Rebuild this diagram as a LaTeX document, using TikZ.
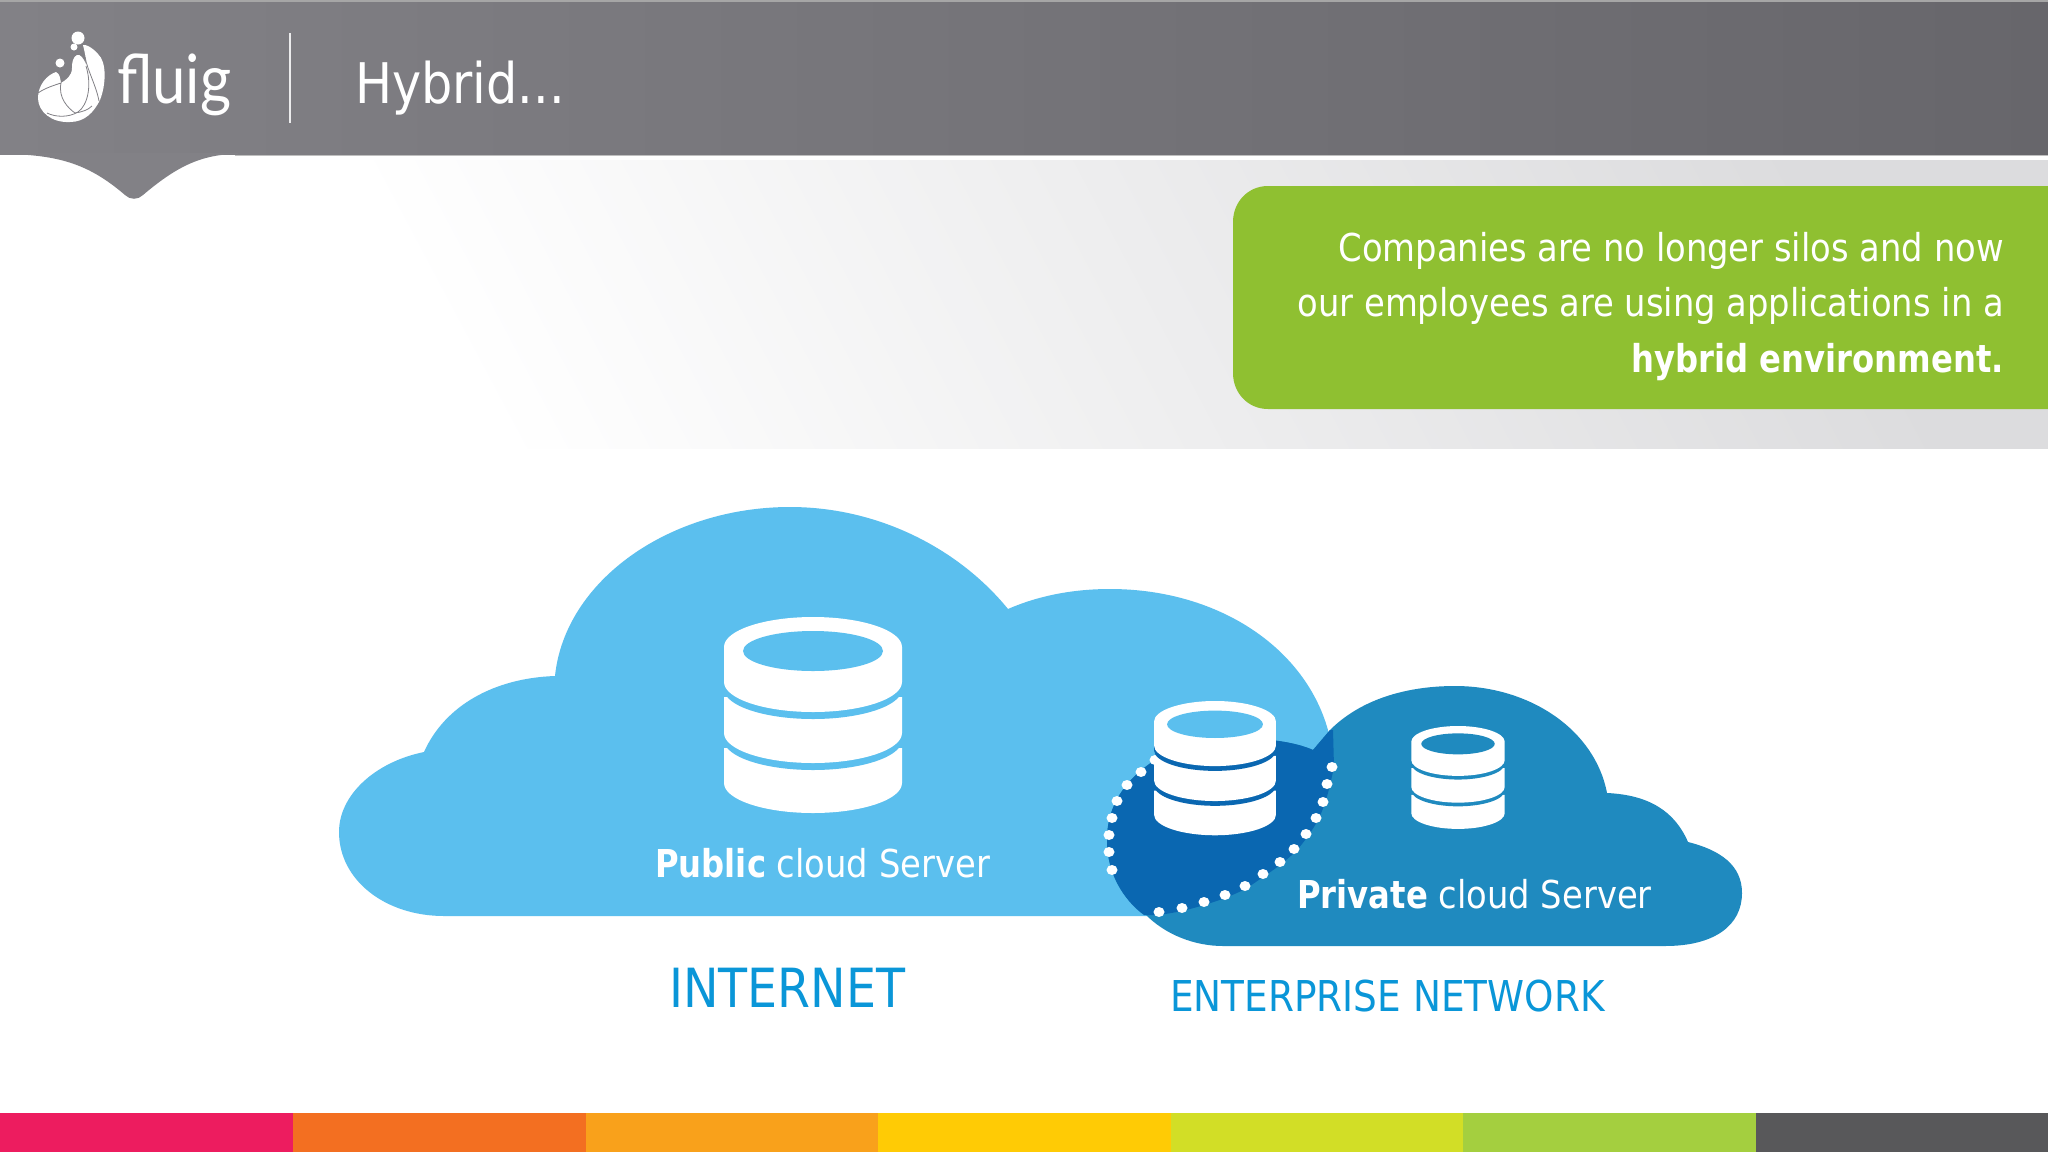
\documentclass[tikz,border=0pt]{standalone}
\usepackage{fontspec}
\setmainfont{DejaVu Sans}[FakeStretch=0.88,BoldFeatures={FakeStretch=0.84}]
\newfontfamily\logofont{Lato}[FakeStretch=0.88]
\usetikzlibrary{calc}
\definecolor{hdrL}{HTML}{828186}
\definecolor{hdrR}{HTML}{67666B}
\definecolor{greenbox}{HTML}{8FC031}
\definecolor{cloudpub}{HTML}{5BBFEE}
\definecolor{cloudpriv}{HTML}{1F8ABF}
\definecolor{cloudmix}{HTML}{0A67B1}
\definecolor{labelblue}{HTML}{0A96D8}
\definecolor{bandgrey}{HTML}{DCDCDE}
\tikzset{
  x=1pt,y=-1pt,
  whitetext/.style={text=white,inner sep=0pt,anchor=base west},
  bluetext/.style={text=labelblue,inner sep=0pt,anchor=base west},
  boxtext/.style={text=white,inner sep=0pt,anchor=base east},
  stripe/.style={fill=#1,draw=none},
  dotmark/.style={fill=white,draw=none},
  logoline/.style={draw=hdrL,line width=0.8pt},
}
% one disc of a database icon: sides from #1 to #2, bottom of the curve at #3
\newcommand{\discshape}[3]{(-89,#1) -- (-89,#2) .. controls (-89,{#2+0.5523*(#3-#2)}) and (-49,#3) .. (0,#3) .. controls (49,#3) and (89,{#2+0.5523*(#3-#2)}) .. (89,#2) -- (89,#1)}
\newcommand{\dbicon}[5]{%
  \begin{scope}[shift={(#1,#2)},scale=#3]
    \fill[white] \discshape{131}{166}{196} -- cycle;
    \begin{scope}[yshift=-7pt]\fill[#5] \discshape{90}{116}{146} -- cycle;\end{scope}
    \fill[white] \discshape{80}{116}{146} -- cycle;
    \begin{scope}[yshift=-7pt]\fill[#5] \discshape{40}{65}{95} -- cycle;\end{scope}
    \fill[white] \discshape{30}{65}{95} .. controls (89,13.4) and (49,0) .. (0,0) .. controls (-49,0) and (-89,13.4) .. (-89,30) -- cycle;
    \fill[#4] (-70,34) .. controls (-70,23) and (-39,14) .. (0,14) .. controls (39,14) and (70,23) .. (70,34) .. controls (70,45) and (39,54) .. (0,54) .. controls (-39,54) and (-70,45) .. (-70,34) -- cycle;
  \end{scope}}
\begin{document}
\begin{tikzpicture}
\useasboundingbox (0,0) rectangle (2048,1152);
\fill[white] (0,0) rectangle (2048,1152);
% light band
\begin{scope}
  \clip (0,160) rectangle (2048,448);
  \shade[left color=white,right color=bandgrey,shading angle=118] (250,160) rectangle (2048,448);
\end{scope}
% header
\fill[color=white] (0,154) rectangle (2048,160);
\draw[color=black!25,line width=1.5pt] (235,155) -- (2048,155);
\shade[left color=hdrL,right color=hdrR] (0,0) rectangle (2048,154);
\fill[color=black!35] (0,0) rectangle (2048,1.5);
\fill[hdrL] (0,153) -- (0,154) .. controls (60,154) and (90,165) .. (125,195) .. controls (130,200) and (138,200) .. (143,195) .. controls (175,168) and (200,154) .. (238,154) -- (238,153) -- cycle;
% logo
\fill[white] (78,38) circle (6.5);
\fill[white] (74,47) circle (3.5);
\fill[white] (60,63) circle (4.5);
\fill[white] (56,72) .. controls (47,75) and (38,85) .. (38,98) .. controls (38,112) and (52,123) .. (70,122) .. controls (85,122) and (94,112) .. (100,100) .. controls (106,85) and (107,62) .. (98,54) .. controls (92,47) and (85,44) .. (83,45) .. controls (84,50) and (86,55) .. (86,65) .. controls (84,58) and (80,54) .. (77,55) .. controls (73,57) and (72,62) .. (72,68) .. controls (72,76) and (66,80) .. (61,83) .. controls (60,78) and (60,74) .. (56,72) -- cycle;
\draw[logoline] (85,57) .. controls (88,72) and (96,85) .. (99,101);
\draw[logoline] (38,93) .. controls (45,88) and (55,85) .. (61,83) .. controls (58,98) and (68,108) .. (75,113) .. controls (82,112) and (88,110) .. (92,106);
\draw[logoline] (86,66) .. controls (92,85) and (88,105) .. (78,112) .. controls (68,118) and (55,117) .. (47,113);
\node[whitetext,font=\logofont\fontsize{68}{68}\selectfont] (logotext) at (117,103) {fluig};
\draw[color=white!85!hdrL,line width=1.3pt] (290,33) -- (290,123);
\node[whitetext,font=\fontsize{56}{60}\selectfont] (title) at (355,103) {Hybrid...};
% green box
\fill[greenbox] (2048,186) -- (1268,186) .. controls (1248,186) and (1233,202) .. (1233,222) -- (1233,373) .. controls (1233,393) and (1248,409) .. (1268,409) -- (2048,409) -- cycle;
\node[boxtext,font=\fontsize{38.4}{46}\selectfont] (line1) at (2004,261) {Companies are no longer silos and now};
\node[boxtext,font=\fontsize{38.4}{46}\selectfont] (line2) at (2004,316) {our employees are using applications in a};
\node[boxtext,font=\fontsize{38.4}{46}\selectfont\bfseries] (line3) at (2004,372) {hybrid environment.};
% public cloud
\fill[cloudpub] (444,916) .. controls (385,916) and (339,880) .. (339,832)
  .. controls (339,795) and (375,762) .. (424,752)
  .. controls (445,705) and (495,678) .. (555,676)
  .. controls (565,580) and (670,507) .. (790,507)
  .. controls (880,507) and (960,550) .. (1008,609)
  .. controls (1040,595) and (1075,589) .. (1110,589)
  .. controls (1220,589) and (1310,650) .. (1330,738)
  -- (1300,916) -- cycle;
% private cloud
\fill[cloudpriv] (1223,946) -- (1665,946)
  .. controls (1715,946) and (1742,925) .. (1742,893)
  .. controls (1742,865) and (1720,850) .. (1688,842)
  .. controls (1675,812) and (1650,795) .. (1607,793)
  .. controls (1595,730) and (1530,686) .. (1455,686)
  .. controls (1405,686) and (1360,700) .. (1330,730)
  -- (1313,750)
  .. controls (1280,735) and (1200,732) .. (1155,760)
  .. controls (1125,780) and (1107,805) .. (1107,840)
  .. controls (1107,880) and (1130,905) .. (1144,913)
  .. controls (1165,935) and (1195,946) .. (1223,946) -- cycle;
% overlap
\fill[cloudmix] (1333,730) -- (1330,730) -- (1313,750)
  .. controls (1280,735) and (1200,732) .. (1155,760)
  .. controls (1125,780) and (1107,805) .. (1107,840)
  .. controls (1107,880) and (1130,905) .. (1144,915)
  -- plot[smooth] coordinates {(1159,915) (1182,911) (1204,905) (1225,898) (1245,889) (1263,877) (1280,865) (1296,851) (1308,836) (1318,820) (1325,803) (1330,785) (1334,767)} -- cycle;
\foreach \px/\py in {1332/767,1327/784,1323/802,1316/818,1306/834,1294/849,1280/862,1263/874,1245/886,1225/895,1204/902,1182/908,1159/912,1112/870,1109/852,1109/835,1112/818,1117/801,1127/785,1141/772,1155/760}
  \fill[dotmark] (\px,\py) ellipse (5.5 and 5);
% databases
\dbicon{813}{617}{1}{cloudpub}{cloudpub}
\dbicon{1215}{701}{0.685}{cloudpub}{cloudmix}
\dbicon{1458}{726}{0.525}{cloudpriv}{cloudpriv}
% labels
\node[whitetext,font=\fontsize{38.4}{46}\selectfont] (pub) at (655,877) {\textbf{Public} cloud Server};
\node[whitetext,font=\fontsize{38.4}{46}\selectfont] (priv) at (1297,908) {\textbf{Private} cloud Server};
\node[bluetext,font=\fontsize{54}{60}\selectfont] (inet) at (669,1007) {INTERNET};
\node[bluetext,font=\fontsize{42.5}{50}\selectfont] (ent) at (1170,1011) {ENTERPRISE NETWORK};
% bottom stripe
\foreach \xa/\xb/\col in {0/293/ED1C5F,293/586/F36F21,586/878/F9A11B,878/1171/FFCB05,1171/1463/D2DE26,1463/1756/A4CF3F,1756/2048/58585A}{
  \definecolor{tmpcol}{HTML}{\col}
  \fill[stripe=tmpcol] (\xa,1113) rectangle (\xb,1152);
}
\end{tikzpicture}
\end{document}
